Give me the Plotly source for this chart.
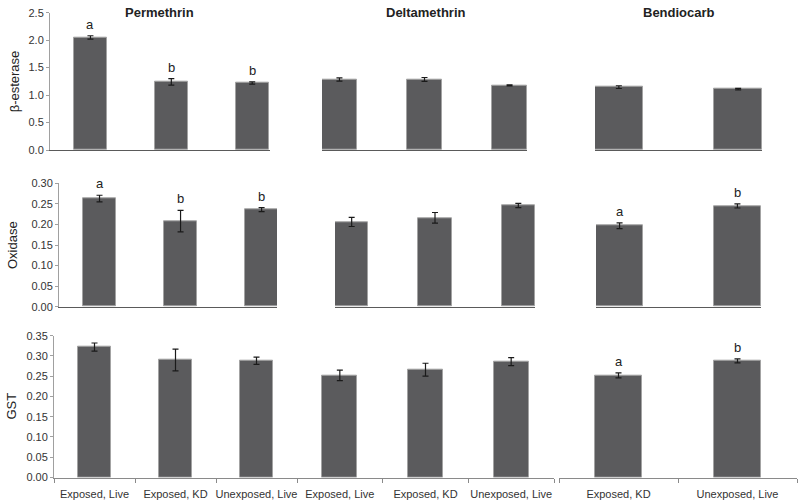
import plotly.graph_objects as go

# ---------------- data ----------------
perm_cats = ["Exposed, Live", "Exposed, KD", "Unexposed, Live"]
delta_cats = ["Exposed, Live", "Exposed, KD", "Unexposed, Live"]
bend_cats = ["Exposed, KD", "Unexposed, Live"]
insecticides = ["Permethrin", "Deltamethrin", "Bendiocarb"]
enzymes = ["β-esterase", "Oxidase", "GST"]

est_perm = [2.05, 1.24, 1.22]
est_perm_err = [0.03, 0.06, 0.02]
est_delta = [1.285, 1.285, 1.175]
est_delta_err = [0.03, 0.035, 0.01]
est_bend = [1.145, 1.108]
est_bend_err = [0.025, 0.015]

oxi_perm = [0.263, 0.208, 0.236]
oxi_perm_err = [0.008, 0.026, 0.005]
oxi_delta = [0.206, 0.216, 0.246]
oxi_delta_err = [0.011, 0.013, 0.005]
oxi_bend = [0.197, 0.245]
oxi_bend_err = [0.007, 0.005]

gst_perm = [0.322, 0.290, 0.288]
gst_perm_err = [0.010, 0.027, 0.009]
gst_delta = [0.252, 0.266, 0.286]
gst_delta_err = [0.013, 0.016, 0.010]
gst_bend = [0.252, 0.288]
gst_bend_err = [0.006, 0.005]

est_perm_letters = ["a", "b", "b"]
oxi_perm_letters = ["a", "b", "b"]
oxi_bend_letters = ["a", "b"]
gst_bend_letters = ["a", "b"]

# ---------------- layout helpers ----------------
W, H = 800, 504
FONT = "Liberation Sans, Arial, Helvetica, sans-serif"
BAR = "#5b5b5d"
EDGE = "#a3a3a3"

def px_x(a, b):
    return [a / W, b / W]

def px_y(top, bottom):
    return [1 - bottom / H, 1 - top / H]

panels = [
    # row 0: beta-esterase
    dict(cats=perm_cats, y=est_perm, e=est_perm_err, L=est_perm_letters, xd=(50, 270), xr=[-0.5, 2.22], w=0.41),
    dict(cats=delta_cats, y=est_delta, e=est_delta_err, L=None, xd=(322, 527), xr=[-0.205, 2.205], w=0.41),
    dict(cats=bend_cats, y=est_bend, e=est_bend_err, L=None, xd=(595, 762), xr=[-0.2, 1.2], w=0.40),
    # row 1: oxidase
    dict(cats=perm_cats, y=oxi_perm, e=oxi_perm_err, L=oxi_perm_letters, xd=(59, 277), xr=[-0.5, 2.19], w=0.41),
    dict(cats=delta_cats, y=oxi_delta, e=oxi_delta_err, L=None, xd=(335, 535), xr=[-0.2, 2.2], w=0.40),
    dict(cats=bend_cats, y=oxi_bend, e=oxi_bend_err, L=oxi_bend_letters, xd=(596, 761), xr=[-0.2, 1.2], w=0.40),
    # row 2: GST
    dict(cats=perm_cats, y=gst_perm, e=gst_perm_err, L=None, xd=(54, 297), xr=[-0.5, 2.5], w=0.41),
    dict(cats=delta_cats, y=gst_delta, e=gst_delta_err, L=None, xd=(297, 554), xr=[-0.5, 2.5], w=0.41),
    dict(cats=bend_cats, y=gst_bend, e=gst_bend_err, L=gst_bend_letters, xd=(559, 797), xr=[-0.5, 1.5], w=0.40),
]

row_y = [
    dict(yd=(12.7, 150), yr=[0, 2.5], dtick=0.5, fmt=".1f", tx=14),
    dict(yd=(183.3, 306.7), yr=[0, 0.30], dtick=0.05, fmt=".2f", tx=12),
    dict(yd=(335.7, 477.5), yr=[0, 0.35], dtick=0.05, fmt=".2f", tx=12),
]

fig = go.Figure()
layout = dict(
    width=W, height=H, autosize=False,
    margin=dict(l=0, r=0, t=0, b=0, pad=0),
    paper_bgcolor="white", plot_bgcolor="rgba(0,0,0,0)",
    showlegend=False, bargap=0,
    font=dict(family=FONT, size=11, color="#333333"),
)
annotations = []

for i, p in enumerate(panels):
    r, c = divmod(i, 3)
    n = i + 1
    xa = "x" if n == 1 else f"x{n}"
    ya = "y" if n == 1 else f"y{n}"
    xk = "xaxis" if n == 1 else f"xaxis{n}"
    yk = "yaxis" if n == 1 else f"yaxis{n}"
    ry = row_y[r]

    fig.add_trace(go.Bar(
        x=p["cats"], y=p["y"], width=p["w"],
        marker=dict(color=BAR, line=dict(color=EDGE, width=1)),
        error_y=dict(type="data", array=p["e"], visible=True,
                     color="#1a1a1a", thickness=1.2, width=3),
        xaxis=xa, yaxis=ya, hoverinfo="x+y",
    ))

    bottom = (r == 2)
    layout[xk] = dict(
        domain=px_x(*p["xd"]), anchor=ya, type="category",
        categoryorder="array", categoryarray=p["cats"],
        range=p["xr"], showgrid=False, zeroline=False,
        showline=True, linecolor="#8a8a8a" if bottom else "#5a5a5a", linewidth=1.3,
        showticklabels=bottom, tickangle=0, automargin=False,
        ticks="outside" if bottom else "", tickson="boundaries",
        ticklen=4, tickcolor="#8a8a8a", ticklabelstandoff=6,
        tickfont=dict(family=FONT, size=11, color="#333333"),
        fixedrange=True,
    )
    left = (c == 0)
    ydict = dict(
        domain=px_y(*ry["yd"]), anchor=xa, range=ry["yr"],
        showgrid=False, zeroline=False, fixedrange=True,
        visible=left, automargin=False,
    )
    if left:
        ydict.update(
            showline=True, linecolor="#a0a0a0", linewidth=1,
            ticks="outside", ticklen=3, tickcolor="#a0a0a0",
            dtick=ry["dtick"], tick0=0, tickformat=ry["fmt"],
            tickfont=dict(family=FONT, size=11, color="#333333"),
        )
        yd = ry["yd"]
        annotations.append(dict(
            x=ry["tx"] / W, y=1 - (yd[0] + yd[1]) / 2 / H, xref="paper", yref="paper",
            text=enzymes[r], textangle=-90, showarrow=False,
            xanchor="center", yanchor="middle",
            font=dict(family=FONT, size=13, color="#222222"),
        ))
    layout[yk] = ydict

    if p["L"]:
        for cat, v, e, t in zip(p["cats"], p["y"], p["e"], p["L"]):
            annotations.append(dict(
                x=cat, y=v + e, xref=xa, yref=ya, text=t, showarrow=False,
                yanchor="bottom", yshift=2,
                font=dict(family=FONT, size=13, color="#222222"),
            ))

# column titles
title_x = [159, 426, 679]
for name, tx in zip(insecticides, title_x):
    annotations.append(dict(
        x=tx / W, y=1 - 12 / H, xref="paper", yref="paper",
        text=f"<b>{name}</b>", showarrow=False,
        xanchor="center", yanchor="middle",
        font=dict(family=FONT, size=13, color="#222222"),
    ))

layout["annotations"] = annotations
fig.update_layout(**layout)
fig.write_html("out.html", config={"displayModeBar": False},
               post_script="document.body.style.margin='0px';")
